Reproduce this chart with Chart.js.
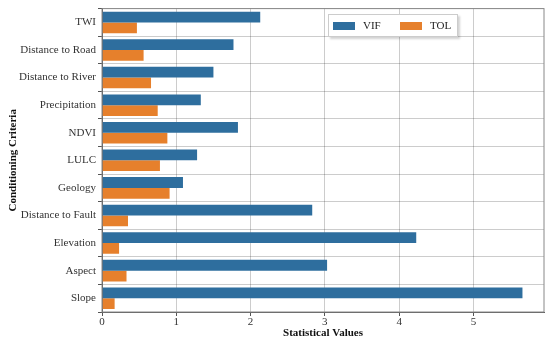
<!DOCTYPE html>
<html>
<head>
<meta charset="utf-8">
<script src="https://cdn.jsdelivr.net/npm/chart.js@4/dist/chart.umd.min.js"></script>
<style>
  html, body { margin: 0; padding: 0; background: #fff; }
  #wrap { position: relative; width: 550px; height: 344px; }
  #legend {
    position: absolute; left: 328px; top: 14px; width: 128px; height: 21px;
    border: 1px solid #ccc; background: #fff;
    box-shadow: 2px 2px 2px rgba(0,0,0,0.18);
    font: 11px "Liberation Serif", serif; color: #222;
  }
  #legend span { position: absolute; top: 4px; }
  #legend i { position: absolute; top: 7px; width: 22px; height: 8px; }
</style>
</head>
<body>
<div id="wrap">
  <canvas id="chart" width="550" height="344"></canvas>
  <div id="legend">
    <i style="left:4px;background:#2e6e9e"></i><span style="left:34px">VIF</span>
    <i style="left:71px;background:#e6802c"></i><span style="left:101px">TOL</span>
  </div>
</div>
<script>
// ── Data ──────────────────────────────────────────────────────────────────────
const criteria = ['TWI', 'Distance to Road', 'Distance to River', 'Precipitation', 'NDVI',
                  'LULC', 'Geology', 'Distance to Fault', 'Elevation', 'Aspect', 'Slope'];
const vif = [2.13, 1.77, 1.50, 1.33, 1.83, 1.28, 1.09, 2.83, 4.23, 3.03, 5.66];
const tol = [0.47, 0.56, 0.66, 0.75, 0.88, 0.78, 0.91, 0.35, 0.23, 0.33, 0.17];

const SERIF = '"Liberation Serif", serif';

// thin frame round the plot area
const frame = {
  id: 'frame',
  afterDraw(chart) {
    const { ctx, chartArea: a } = chart;
    ctx.save();
    ctx.strokeStyle = '#888';
    ctx.lineWidth = 1;
    ctx.strokeRect(a.left, a.top, a.right - a.left, a.bottom - a.top);
    ctx.restore();
  },
};

new Chart(document.getElementById('chart'), {
  type: 'bar',
  data: {
    labels: criteria,
    datasets: [
      { label: 'VIF', data: vif, backgroundColor: '#2e6e9e', borderWidth: 0 },
      { label: 'TOL', data: tol, backgroundColor: '#e6802c', borderWidth: 0 },
    ],
  },
  options: {
    indexAxis: 'y',
    responsive: false,
    animation: false,
    layout: { padding: { top: 7, right: 6, left: 0, bottom: 0 } },
    datasets: { bar: { categoryPercentage: 0.78, barPercentage: 1.0 } },
    plugins: { legend: { display: false }, tooltip: { enabled: false } },
    scales: {
      x: {
        min: 0, max: 5.95, z: 1,
        afterBuildTicks: s => { s.ticks = s.ticks.filter(t => Number.isInteger(t.value)); },
        afterFit: s => { s.height = 32; },
        ticks: { stepSize: 1, color: '#333', font: { family: SERIF, size: 11 }, padding: 0 },
        grid: { color: 'rgba(0,0,0,0.2)', tickLength: 4, tickColor: '#555' },
        border: { color: '#555' },
        title: { display: true, text: 'Statistical Values', color: '#111',
                 font: { family: SERIF, size: 11, weight: 'bold' }, padding: { top: 1 } },
      },
      y: {
        z: 1,
        afterFit: s => { s.width = 102; },
        ticks: { color: '#333', font: { family: SERIF, size: 11 }, padding: 2 },
        grid: { color: 'rgba(0,0,0,0.2)', tickLength: 4, tickColor: '#555' },
        border: { color: '#555' },
        title: { display: true, text: 'Conditioning Criteria', color: '#111',
                 font: { family: SERIF, size: 11, weight: 'bold' }, padding: { top: 7, bottom: 0 } },
      },
    },
  },
  plugins: [frame],
});
</script>
</body>
</html>
